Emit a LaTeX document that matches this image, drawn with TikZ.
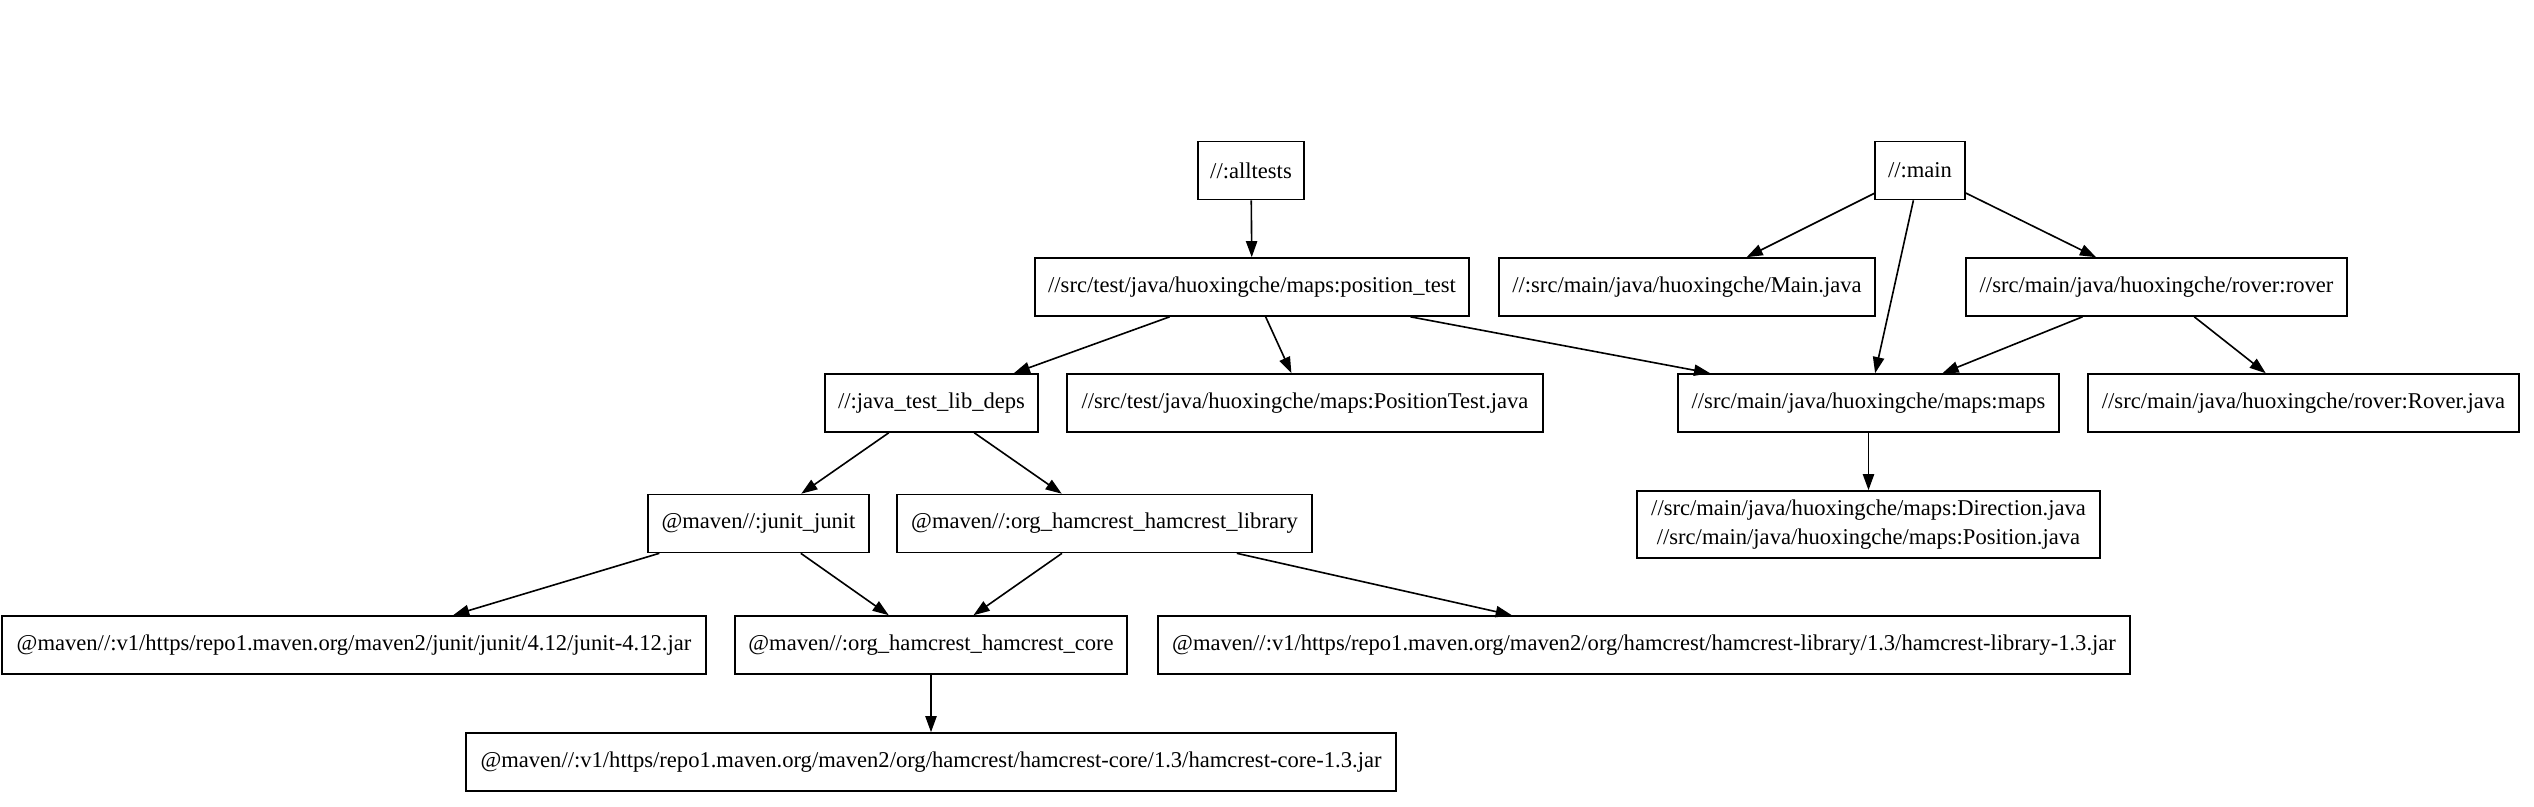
\documentclass[tikz,border=0pt]{standalone}
\usepackage{fontspec}
\setmainfont{Liberation Serif}
\usetikzlibrary{arrows.meta}
\def\u{0.62pt}
\tikzset{
  box/.style={draw, line width=1pt, rectangle, inner sep=0pt, minimum height=58*\u,
    font=\fontsize{14}{17.5}\selectfont, align=center},
  edge/.style={line width=1pt, -{Triangle[length=10pt,width=7pt]}}
}
\begin{document}
\begin{tikzpicture}[x=0.62pt,y=-0.62pt]
\useasboundingbox (0,0) rectangle (2534,806);
% row 0
\node[box, minimum width=106*\u] (alltests) at (1251,170.5) {//:alltests};
\node[box, minimum width=90*\u] (main) at (1920,170.5) {//:main};
% row 1
\node[box, minimum width=434*\u] (ptest) at (1252,287) {//src/test/java/huoxingche/maps:position\_test};
\node[box, minimum width=376*\u] (mainjava) at (1687,287) {//:src/main/java/huoxingche/Main.java};
\node[box, minimum width=381*\u] (rover) at (2156.5,287) {//src/main/java/huoxingche/rover:rover};
% row 2
\node[box, minimum width=213*\u] (libdeps) at (931.5,403) {//:java\_test\_lib\_deps};
\node[box, minimum width=476*\u] (ptjava) at (1305,403) {//src/test/java/huoxingche/maps:PositionTest.java};
\node[box, minimum width=381*\u] (maps) at (1868.5,403) {//src/main/java/huoxingche/maps:maps};
\node[box, minimum width=431*\u] (roverjava) at (2303.5,403) {//src/main/java/huoxingche/rover:Rover.java};
% row 3
\node[box, minimum width=221*\u] (junit) at (758.5,523.5) {@maven//:junit\_junit};
\node[box, minimum width=415*\u] (hlib) at (1104.5,523.5) {@maven//:org\_hamcrest\_hamcrest\_library};
\node[box, minimum width=463*\u, minimum height=67*\u] (dirpos) at (1868.5,524.5) {//src/main/java/huoxingche/maps:Direction.java\\//src/main/java/huoxingche/maps:Position.java};
% row 4
\node[box, minimum width=704*\u] (junitjar) at (354,645) {@maven//:v1/https/repo1.maven.org/maven2/junit/junit/4.12/junit-4.12.jar};
\node[box, minimum width=392*\u] (hcore) at (931,645) {@maven//:org\_hamcrest\_hamcrest\_core};
\node[box, minimum width=972*\u] (hlibjar) at (1644,645) {@maven//:v1/https/repo1.maven.org/maven2/org/hamcrest/hamcrest-library/1.3/hamcrest-library-1.3.jar};
% row 5
\node[box, minimum width=930*\u] (hcorejar) at (931,762) {@maven//:v1/https/repo1.maven.org/maven2/org/hamcrest/hamcrest-core/1.3/hamcrest-core-1.3.jar};
% edges
\draw[edge] (alltests) -- (ptest);
\draw[edge] (main) -- (mainjava);
\draw[edge] (main) -- (maps);
\draw[edge] (main) -- (rover);
\draw[edge] (ptest) -- (libdeps);
\draw[edge] (ptest) -- (ptjava);
\draw[edge] (ptest) -- (maps);
\draw[edge] (rover) -- (maps);
\draw[edge] (rover) -- (roverjava);
\draw[edge] (maps) -- (dirpos);
\draw[edge] (libdeps) -- (junit);
\draw[edge] (libdeps) -- (hlib);
\draw[edge] (junit) -- (junitjar);
\draw[edge] (junit) -- (hcore);
\draw[edge] (hlib) -- (hcore);
\draw[edge] (hlib) -- (hlibjar);
\draw[edge] (hcore) -- (hcorejar);
\end{tikzpicture}
\end{document}
